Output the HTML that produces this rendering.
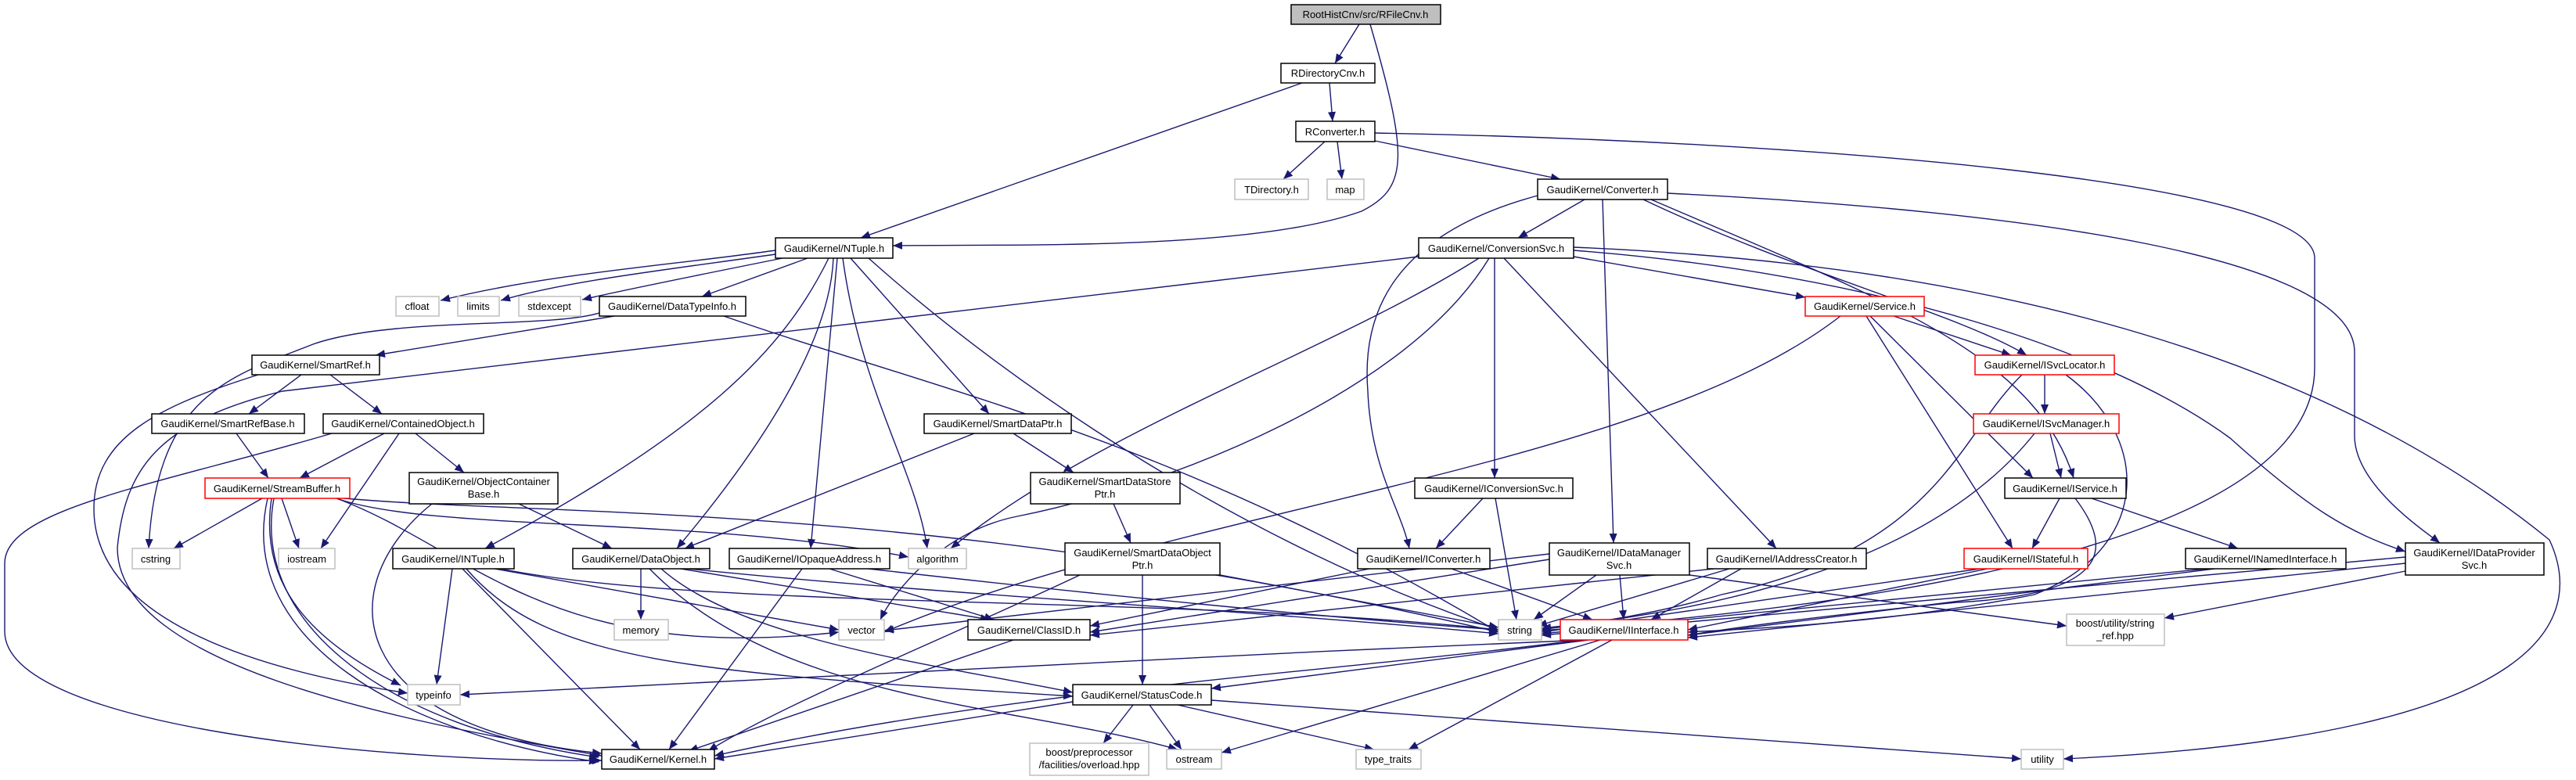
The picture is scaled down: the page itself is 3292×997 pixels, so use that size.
<!DOCTYPE html>
<html><head><meta charset="utf-8"><style>
html,body{margin:0;padding:0;background:#fff;}
svg{display:block;}
text{font-family:"Liberation Sans",sans-serif;font-size:13px;fill:#000;}
</style></head><body>
<svg width="3292" height="997" viewBox="0 0 3292 997" xmlns="http://www.w3.org/2000/svg">
<defs>
<marker id="a" viewBox="0 0 12 10" refX="12" refY="5" markerWidth="12" markerHeight="10" markerUnits="userSpaceOnUse" orient="auto">
<path d="M0,0 L12,5 L0,10z" fill="#191970"/>
</marker>
</defs>
<g fill="none" stroke="#191970" stroke-width="1.4" marker-end="url(#a)">
<path d="M1737,31 L1706,81"/>
<path d="M1699,106 L1703,155"/>
<path d="M1664,106 L1100,304"/>
<path d="M1693,181 L1640,229"/>
<path d="M1709,181 L1715,229"/>
<path d="M1757,180 L1994,229"/>
<path d="M2025,255 L1940,304"/>
<path d="M991,320 C850,340 700,350 563,384"/>
<path d="M991,325 C850,345 720,360 640,384"/>
<path d="M1000,330 C900,350 800,370 744,383"/>
<path d="M1032,330 L897,379"/>
<path d="M1059,330 C1000,450 900,550 620,701"/>
<path d="M1065,330 C1060,450 950,600 865,701"/>
<path d="M1070,330 L1036,701"/>
<path d="M1077,330 C1100,500 1170,600 1185,701"/>
<path d="M1087,330 L1264,529"/>
<path d="M1110,330 C1300,500 1600,700 1915,805"/>
<path d="M785,404 L480,454"/>
<path d="M766,400 C700,420 500,405 400,440 C300,480 200,500 190,701"/>
<path d="M925,404 C1200,500 1500,560 1915,808"/>
<path d="M385,479 L318,529"/>
<path d="M422,479 L488,529"/>
<path d="M330,479 C200,520 120,560 120,650 C120,800 350,860 521,886"/>
<path d="M1813,328 L361,500 C200,540 160,600 150,700 C150,850 500,920 769,966"/>
<path d="M424,554 C200,620 6,650 6,720 L6,807 C6,930 500,975 769,972"/>
<path d="M302,554 L343,611"/>
<path d="M491,554 L383,611"/>
<path d="M510,554 L410,701"/>
<path d="M531,554 L593,604"/>
<path d="M335,637 L222,701"/>
<path d="M360,637 L382,701"/>
<path d="M347,637 C330,750 400,820 512,876"/>
<path d="M350,637 C320,800 500,930 765,968"/>
<path d="M342,637 C300,820 520,940 765,974"/>
<path d="M430,637 C600,700 700,850 1072,808"/>
<path d="M430,637 C550,680 900,660 1161,712"/>
<path d="M440,637 C700,660 1200,640 1915,808"/>
<path d="M663,644 L782,701"/>
<path d="M552,644 C420,750 440,930 769,963"/>
<path d="M578,727 L558,875"/>
<path d="M591,727 L818,958"/>
<path d="M632,727 L1072,805"/>
<path d="M640,727 C900,780 1500,760 1915,805"/>
<path d="M596,727 C700,850 900,860 1371,890"/>
<path d="M819,727 L819,792"/>
<path d="M870,727 L1265,792"/>
<path d="M845,727 C950,820 1200,850 1371,885"/>
<path d="M830,727 C1000,900 1300,900 1505,958"/>
<path d="M880,727 C1200,760 1600,780 1915,810"/>
<path d="M1025,727 L855,958"/>
<path d="M1060,727 L1270,792"/>
<path d="M1110,727 C1400,760 1700,790 1915,805"/>
<path d="M1295,818 L880,960"/>
<path d="M1295,554 L1372,604"/>
<path d="M1245,554 L875,701"/>
<path d="M1423,644 L1445,694"/>
<path d="M1460,735 L1460,875"/>
<path d="M1380,735 C1200,820 1000,900 905,960"/>
<path d="M1559,735 L1915,802"/>
<path d="M1448,901 L1410,950"/>
<path d="M1469,901 L1510,958"/>
<path d="M1505,901 L1756,958"/>
<path d="M1548,895 L2583,970"/>
<path d="M1371,897 L913,970"/>
<path d="M2030,818 L1548,880"/>
<path d="M2020,818 C1700,860 1300,880 913,966"/>
<path d="M2025,818 C1500,840 900,870 588,888"/>
<path d="M2045,818 L1561,962"/>
<path d="M2060,818 L1800,958"/>
<path d="M1910,330 L1910,611"/>
<path d="M1890,330 C1700,450 1400,550 1215,701"/>
<path d="M1903,330 C1800,500 1500,620 1300,660 C1200,680 1140,760 1125,792"/>
<path d="M1922,330 L2270,701"/>
<path d="M2011,328 L2307,380"/>
<path d="M2011,320 C2400,350 2700,450 2850,560 C2950,650 3000,680 3074,705"/>
<path d="M2011,316 C2600,340 3000,480 3258,690 C3300,780 3280,940 2637,970"/>
<path d="M1965,250 C1780,300 1740,400 1748,500 C1752,600 1790,650 1801,701"/>
<path d="M2048,255 L2062,694"/>
<path d="M2100,255 C2300,350 2500,400 2590,454"/>
<path d="M2110,255 C2400,380 2600,450 2650,611"/>
<path d="M2131,247 C2600,270 3009,330 3009,450 L3009,557 C3009,620 3100,680 3118,694"/>
<path d="M1757,170 C2300,180 2958,230 2958,330 L2958,470 C2958,650 2600,760 1970,806"/>
<path d="M1751,31 C1800,200 1800,240 1740,270 C1600,320 1300,312 1141,314"/>
<path d="M1895,637 L1835,701"/>
<path d="M1911,637 L1938,792"/>
<path d="M1750,727 L1393,800"/>
<path d="M1855,727 L2035,792"/>
<path d="M2040,735 L1960,792"/>
<path d="M2070,735 L2075,792"/>
<path d="M1980,715 L1393,808"/>
<path d="M1980,708 L1130,806"/>
<path d="M2159,735 L2641,800"/>
<path d="M2225,727 L2110,792"/>
<path d="M2210,727 L1965,800"/>
<path d="M2190,727 L1393,812"/>
<path d="M2420,404 L2570,454"/>
<path d="M2390,404 L2598,611"/>
<path d="M2385,404 L2572,701"/>
<path d="M2352,404 C2100,600 1500,650 1130,808"/>
<path d="M2613,479 L2613,529"/>
<path d="M2584,479 C2500,560 2480,700 2200,760 C2100,790 2000,800 1970,805"/>
<path d="M2640,479 C2750,560 2750,700 2600,760 C2400,800 2200,805 2157,808"/>
<path d="M2620,554 L2634,611"/>
<path d="M2600,554 C2500,680 2300,770 1970,803"/>
<path d="M2632,637 L2597,701"/>
<path d="M2673,637 L2860,701"/>
<path d="M2652,637 C2700,700 2700,760 2500,770 C2300,790 2200,805 2157,812"/>
<path d="M2540,727 L2157,805"/>
<path d="M2530,727 L1970,808"/>
<path d="M2830,727 L2157,812"/>
<path d="M2820,727 L1970,810"/>
<path d="M3074,720 L2157,815"/>
<path d="M3074,712 L1970,812"/>
<path d="M3074,730 L2766,790"/>
</g>
<g stroke-width="1.5">
<!-- black nodes -->
<g fill="#fff" stroke="#000">
<rect x="1637" y="81" width="120" height="25"/>
<rect x="1656" y="155" width="101" height="26"/>
<rect x="1965" y="229" width="166" height="26"/>
<rect x="1813" y="304" width="198" height="26"/>
<rect x="991" y="304" width="150" height="26"/>
<rect x="766" y="379" width="187" height="25"/>
<rect x="322" y="454" width="163" height="25"/>
<rect x="194" y="529" width="195" height="25"/>
<rect x="413" y="529" width="205" height="25"/>
<rect x="1181" y="529" width="188" height="25"/>
<rect x="523" y="604" width="190" height="40"/>
<rect x="1317" y="604" width="191" height="40"/>
<rect x="1808" y="611" width="202" height="26"/>
<rect x="2562" y="611" width="155" height="26"/>
<rect x="502" y="701" width="155" height="26"/>
<rect x="732" y="701" width="175" height="26"/>
<rect x="932" y="701" width="205" height="26"/>
<rect x="1361" y="694" width="198" height="41"/>
<rect x="1735" y="701" width="169" height="26"/>
<rect x="1980" y="694" width="179" height="41"/>
<rect x="2182" y="701" width="203" height="26"/>
<rect x="2793" y="701" width="205" height="26"/>
<rect x="3074" y="694" width="177" height="41"/>
<rect x="1237" y="792" width="156" height="26"/>
<rect x="1371" y="875" width="177" height="26"/>
<rect x="769" y="958" width="144" height="25"/>
</g>
<rect x="1650" y="6" width="191" height="25" fill="#bfbfbf" stroke="#000"/>
<g fill="#fff" stroke="#f00">
<rect x="2307" y="379" width="152" height="25"/>
<rect x="2524" y="454" width="178" height="25"/>
<rect x="2522" y="529" width="186" height="25"/>
<rect x="262" y="611" width="185" height="26"/>
<rect x="2510" y="701" width="158" height="26"/>
<rect x="1994" y="792" width="163" height="26"/>
</g>
<g fill="#fff" stroke="#bfbfbf">
<rect x="1578" y="229" width="94" height="26"/>
<rect x="1696" y="229" width="47" height="26"/>
<rect x="506" y="379" width="55" height="25"/>
<rect x="585" y="379" width="53" height="25"/>
<rect x="663" y="379" width="79" height="25"/>
<rect x="169" y="701" width="61" height="26"/>
<rect x="356" y="701" width="72" height="26"/>
<rect x="1161" y="701" width="74" height="26"/>
<rect x="785" y="792" width="69" height="26"/>
<rect x="1072" y="792" width="58" height="26"/>
<rect x="1915" y="792" width="55" height="26"/>
<rect x="2641" y="785" width="125" height="40"/>
<rect x="521" y="875" width="67" height="26"/>
<rect x="1316" y="950" width="152" height="41"/>
<rect x="1491" y="958" width="70" height="25"/>
<rect x="1733" y="958" width="83" height="25"/>
<rect x="2583" y="958" width="54" height="25"/>
</g>
</g>
<g text-anchor="middle">
<text x="1745" y="23">RootHistCnv/src/RFileCnv.h</text>
<text x="1697" y="98">RDirectoryCnv.h</text>
<text x="1706" y="173">RConverter.h</text>
<text x="1625" y="247">TDirectory.h</text>
<text x="1719" y="247">map</text>
<text x="2048" y="247">GaudiKernel/Converter.h</text>
<text x="1912" y="322">GaudiKernel/ConversionSvc.h</text>
<text x="1066" y="322">GaudiKernel/NTuple.h</text>
<text x="533" y="396">cfloat</text>
<text x="611" y="396">limits</text>
<text x="702" y="396">stdexcept</text>
<text x="859" y="396">GaudiKernel/DataTypeInfo.h</text>
<text x="2383" y="396">GaudiKernel/Service.h</text>
<text x="403" y="471">GaudiKernel/SmartRef.h</text>
<text x="2613" y="471">GaudiKernel/ISvcLocator.h</text>
<text x="291" y="546">GaudiKernel/SmartRefBase.h</text>
<text x="515" y="546">GaudiKernel/ContainedObject.h</text>
<text x="1275" y="546">GaudiKernel/SmartDataPtr.h</text>
<text x="2615" y="546">GaudiKernel/ISvcManager.h</text>
<text x="354" y="629">GaudiKernel/StreamBuffer.h</text>
<text x="618" y="620">GaudiKernel/ObjectContainer</text>
<text x="618" y="636">Base.h</text>
<text x="1412" y="620">GaudiKernel/SmartDataStore</text>
<text x="1412" y="636">Ptr.h</text>
<text x="1909" y="629">GaudiKernel/IConversionSvc.h</text>
<text x="2639" y="629">GaudiKernel/IService.h</text>
<text x="199" y="719">cstring</text>
<text x="392" y="719">iostream</text>
<text x="579" y="719">GaudiKernel/INTuple.h</text>
<text x="819" y="719">GaudiKernel/DataObject.h</text>
<text x="1034" y="719">GaudiKernel/IOpaqueAddress.h</text>
<text x="1198" y="719">algorithm</text>
<text x="1460" y="711">GaudiKernel/SmartDataObject</text>
<text x="1460" y="727">Ptr.h</text>
<text x="1819" y="719">GaudiKernel/IConverter.h</text>
<text x="2069" y="711">GaudiKernel/IDataManager</text>
<text x="2069" y="727">Svc.h</text>
<text x="2283" y="719">GaudiKernel/IAddressCreator.h</text>
<text x="2589" y="719">GaudiKernel/IStateful.h</text>
<text x="2895" y="719">GaudiKernel/INamedInterface.h</text>
<text x="3162" y="711">GaudiKernel/IDataProvider</text>
<text x="3162" y="727">Svc.h</text>
<text x="819" y="810">memory</text>
<text x="1101" y="810">vector</text>
<text x="1315" y="810">GaudiKernel/ClassID.h</text>
<text x="1942" y="810">string</text>
<text x="2075" y="810">GaudiKernel/IInterface.h</text>
<text x="2703" y="801">boost/utility/string</text>
<text x="2703" y="817">_ref.hpp</text>
<text x="554" y="893">typeinfo</text>
<text x="1459" y="893">GaudiKernel/StatusCode.h</text>
<text x="1392" y="966">boost/preprocessor</text>
<text x="1392" y="982">/facilities/overload.hpp</text>
<text x="841" y="975">GaudiKernel/Kernel.h</text>
<text x="1526" y="975">ostream</text>
<text x="1774" y="975">type_traits</text>
<text x="2610" y="975">utility</text>
</g>
</svg>
</body></html>
